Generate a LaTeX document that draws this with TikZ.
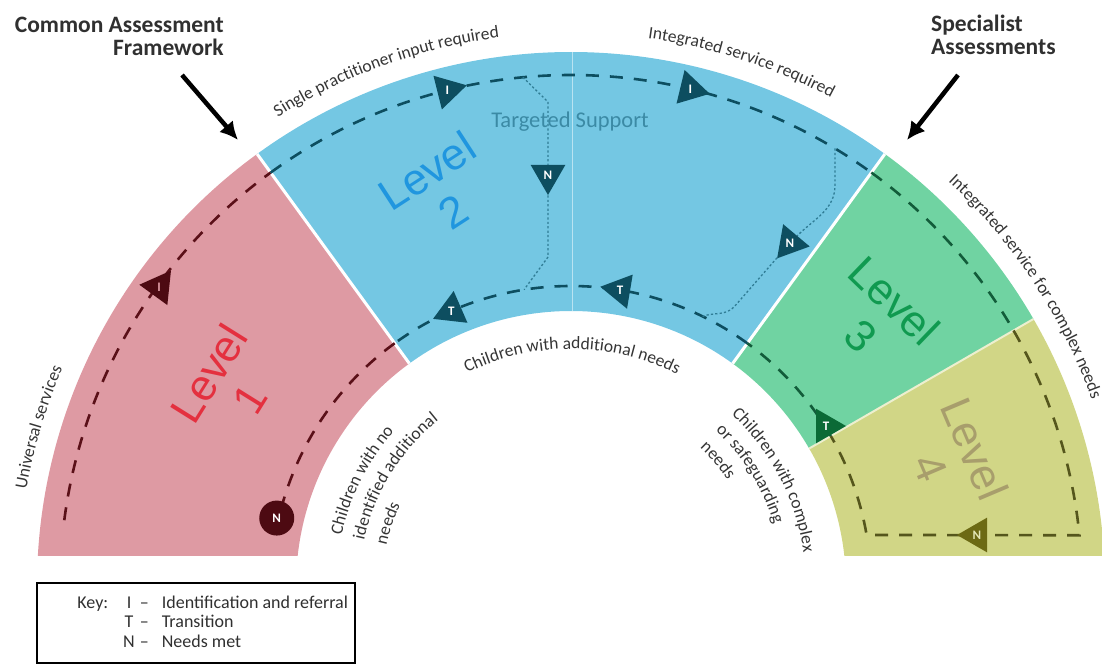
\documentclass[tikz,border=0pt]{standalone}
\usepackage{fontspec}
\setmainfont{Carlito}
\newfontfamily\levelfont{Liberation Sans}
\usetikzlibrary{shapes.geometric, arrows.meta, decorations.text, positioning}

\definecolor{lvlonefill}{HTML}{DE9AA3}
\definecolor{lvltwofill}{HTML}{74C7E3}
\definecolor{lvlthreefill}{HTML}{70D3A2}
\definecolor{lvlfourfill}{HTML}{D1D686}
\definecolor{lvlonetext}{HTML}{E4303F}
\definecolor{lvltwotext}{HTML}{2096DF}
\definecolor{lvlthreetext}{HTML}{109A50}
\definecolor{lvlfourtext}{HTML}{A89E6C}
\definecolor{lvlonedash}{HTML}{5A1018}
\definecolor{lvltwodash}{HTML}{0D4E60}
\definecolor{lvlthreedash}{HTML}{125C3A}
\definecolor{lvlfourdash}{HTML}{55561C}
\definecolor{lvlonemark}{HTML}{4D0A12}
\definecolor{lvlthreemark}{HTML}{0B6A36}
\definecolor{lvlfourmark}{HTML}{6C6A14}
\definecolor{dotblue}{HTML}{2F7C95}
\definecolor{supporttext}{HTML}{3B8AA5}
\definecolor{headgrey}{HTML}{303030}
\definecolor{labelgrey}{HTML}{353535}

% one band of the ring, between two angles
\newcommand{\ringpart}[2]{(#1:275) arc[start angle=#1, end angle=#2, radius=275] -- (#2:534) arc[start angle=#2, end angle=#1, radius=534] -- cycle}
\newcommand{\arcfont}{\fontsize{17.5}{17.5}\selectfont\color{labelgrey}}

\tikzset{
  dashtrack/.style={line width=2.6pt, dash pattern=on 13pt off 11pt},
  dottrack/.style={line width=1.3pt, dash pattern=on 2.2pt off 2.2pt, dotblue},
  marker/.style={regular polygon, regular polygon sides=3, minimum size=40pt, inner sep=0pt,
    text=white, font=\bfseries\fontsize{13}{13}\selectfont},
  levellabel/.style={font=\levelfont\fontsize{44}{48}\selectfont, align=center},
  arctext/.style={decorate, decoration={text along path, text={|\arcfont|#1}}},
  bigarrow/.style={line width=4.5pt, -{Latex[length=18pt,width=18pt]}},
  heading/.style={font=\bfseries\fontsize{23.5}{23}\selectfont, text=headgrey, inner sep=0pt},
  keyframe/.style={draw, line width=1.6pt, minimum width=318pt, minimum height=80pt},
  keytext/.style={font=\fontsize{18}{19.5}\selectfont, text=headgrey, inner sep=0pt}
}

\begin{document}
\begin{tikzpicture}[x=1pt, y=1pt]
\useasboundingbox (0,0) rectangle (1102,664);

\begin{scope}[shift={(571,78)}]
  % Bands
  \begin{scope}
    \clip (-600,31) rectangle (600,600);
    \fill[lvlonefill] \ringpart{126}{180};
    \fill[lvltwofill] \ringpart{54}{126};
    \fill[lvlthreefill] \ringpart{30}{54};
    \fill[lvlfourfill] \ringpart{0}{30};
  \end{scope}
  \draw[white, line width=3pt] (126:275) -- (126:534);
  \draw[white, line width=3pt] (54:275) -- (54:534);
  \draw[white!60!lvlfourfill, line width=2pt] (30:275) -- (30:534);
  \draw[white, opacity=0.5, line width=0.8pt] (1,275) -- (1,534);

  % Tracks
  \draw[dashtrack, lvlonedash] (172.6:511) arc[start angle=172.6, end angle=126, radius=511];
  \draw[dashtrack, lvltwodash] (126:511) arc[start angle=126, end angle=54, radius=511];
  \draw[dashtrack, lvlthreedash] (54:511) arc[start angle=54, end angle=30, radius=511];
  \draw[dashtrack, lvlfourdash] (30:511) arc[start angle=30, end angle=5.7, radius=511]
    -- (9.8:300) arc[start angle=9.8, end angle=30, radius=300];
  \draw[dashtrack, lvlthreedash] (30:300) arc[start angle=30, end angle=54, radius=300];
  \draw[dashtrack, lvltwodash] (54:300) arc[start angle=54, end angle=126, radius=300];
  \draw[dashtrack, lvlonedash] (126:300) arc[start angle=126, end angle=167, radius=300];

  % Markers
  \node[marker, fill=lvlonemark, text=lvlonefill, shape border rotate=-36] (idone) at (144:509) {I};
  \node[circle, fill=lvlonemark, minimum size=35pt, inner sep=0pt, text=white,
    font=\bfseries\fontsize{13}{13}\selectfont] (metone) at (167:302) {N};
  \node[marker, fill=lvltwodash, shape border rotate=-76] (idtwoa) at (104:511) {I};
  \node[marker, fill=lvltwodash, shape border rotate=-103.5] (idtwob) at (76.5:511) {I};
  \node[marker, fill=lvltwodash, shape border rotate=113.5] (trtwoa) at (113.5:300) {T};
  \node[marker, fill=lvltwodash, shape border rotate=80.6] (trtwob) at (80.6:300) {T};
  \node[marker, fill=lvltwodash, shape border rotate=180] (mettwoa) at (-23,411) {N};
  \node[marker, fill=lvltwodash, shape border rotate=140] (mettwob) at (219,343) {N};
  \node[marker, fill=lvlthreemark, shape border rotate=-90] (trthree) at (255,160) {T};
  \node[marker, fill=lvlfourmark, text=lvlfourfill!60!white, shape border rotate=90] (metfour) at (406,51) {N};

  % Dotted routes in level 2
  \draw[dottrack] (95.4:511) -- (-23,484) -- (mettwoa);
  \draw[dottrack] (mettwoa) -- (-23,329) -- (99:300);
  \draw[dottrack] (58.9:511) -- (264,401) to[out=-90, in=45] (mettwob);
  \draw[dottrack] (mettwob) -- (163,279) to[out=225, in=20] (64:300);

  % Level names
  \node[levellabel, lvlonetext, rotate=58] (lvlone) at (-342,200) {Level\\1};
  \node[levellabel, lvltwotext, rotate=33] (lvltwo) at (-131,395) {Level\\2};
  \node[levellabel, lvlthreetext, rotate=-44] (lvlthree) at (307,268) {Level\\3};
  \node[levellabel, lvlfourtext, rotate=-67] (lvlfour) at (382,128) {Level\\4};
  \node[font=\fontsize{22.5}{22.5}\selectfont, text=supporttext] (support) at (-1,464) {Targeted Support};

  % Texts round the ring
  \path[arctext={Universal services}] (170:553) arc[start angle=170, end angle=140, radius=553];
  \path[arctext={Single practitioner input required}] (122:553) arc[start angle=122, end angle=75, radius=553];
  \path[arctext={Integrated service required}] (82:553) arc[start angle=82, end angle=45, radius=553];
  \path[arctext={Integrated service for complex needs}] (47:553) arc[start angle=47, end angle=0, radius=553];
  \path[arctext={Children with additional needs}] (116:237) arc[start angle=116, end angle=45, radius=237];
  \path[arctext={Children with no}] (167.5:235) arc[start angle=167.5, end angle=100, radius=235];
  \path[arctext={identified additional}] (167.5:212) arc[start angle=167.5, end angle=80, radius=212];
  \path[arctext={needs}] (167.5:189) arc[start angle=167.5, end angle=120, radius=189];
  \path[arctext={Children with complex}] (47:235) arc[start angle=47, end angle=-10, radius=235];
  \path[arctext={or safeguarding}] (47:212) arc[start angle=47, end angle=-10, radius=212];
  \path[arctext={needs}] (47:189) arc[start angle=47, end angle=0, radius=189];
\end{scope}

% Assessments
\node[heading, align=right, anchor=north east] (caf) at (224,647) {Common Assessment\\Framework};
\node[heading, align=left, anchor=north west] (specialist) at (931,649) {Specialist\\Assessments};
\coordinate (caftail) at (182,589);
\coordinate (caftip) at (238,524);
\coordinate (spectail) at (958,589);
\coordinate (spectip) at (907,524);
\draw[bigarrow] (caftail) -- (caftip);
\draw[bigarrow] (spectail) -- (spectip);

% Key
\node[keyframe] (keybox) at (196,41) {};
\node[keytext, anchor=north west] (keylist) at ([xshift=41pt, yshift=-12pt]keybox.north west)
  {\begin{tabular}{@{}l@{\hspace{15pt}}c@{\hspace{5pt}}c@{\hspace{13pt}}l@{}}
    Key: & I & -- & Identification and referral\\
         & T & -- & Transition\\
         & N & -- & Needs met
  \end{tabular}};
\end{tikzpicture}
\end{document}
